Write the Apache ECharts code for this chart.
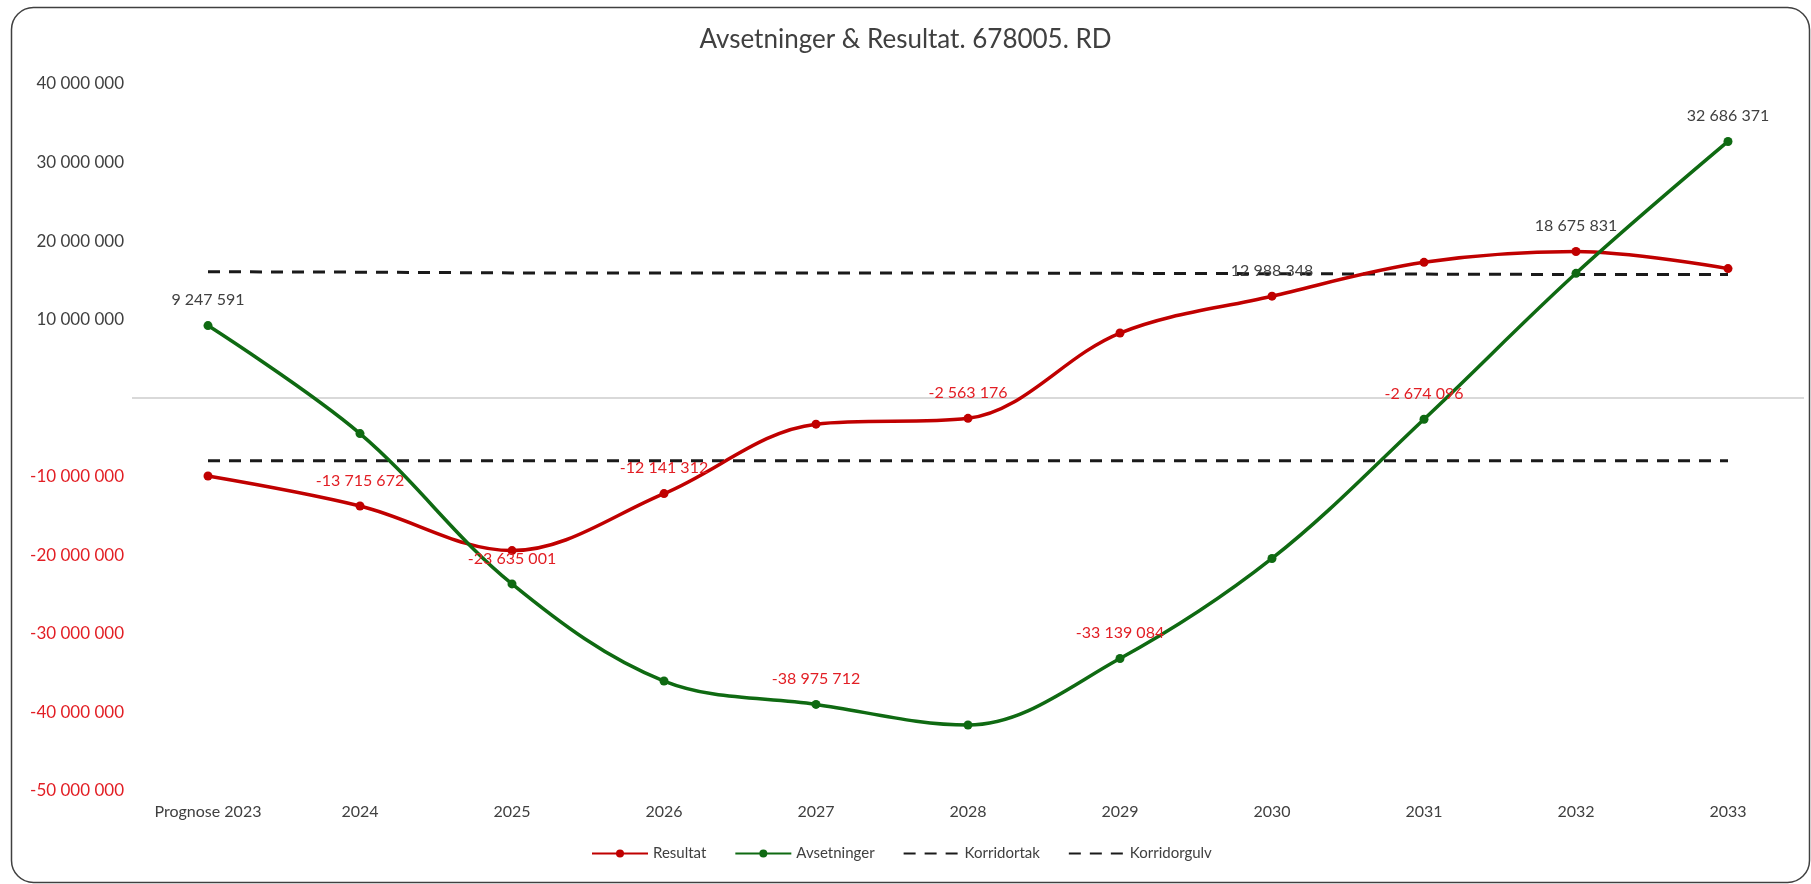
<!DOCTYPE html>
<html>
<head>
<meta charset="utf-8">
<script src="https://cdn.jsdelivr.net/npm/echarts@6/dist/echarts.min.js"></script>
<style>
  html, body { margin: 0; padding: 0; background: #ffffff; }
  #chart { width: 1811px; height: 884px; }
</style>
</head>
<body>
<div id="chart"></div>
<script>
const categories = ['Prognose 2023', '2024', '2025', '2026', '2027', '2028', '2029', '2030', '2031', '2032', '2033'];
const resultat = [-9900000, -13715672, -19400000, -12141312, -3300000, -2563176, 8300000, 12988348, 17300000, 18675831, 16500000];
const avsetninger = [9247591, -4500000, -23635001, -36000000, -38975712, -41600000, -33139084, -20400000, -2674096, 15900000, 32686371];
const korridortak = [16100000, 16050000, 15950000, 15950000, 15950000, 15950000, 15900000, 15850000, 15800000, 15750000, 15750000];
const korridorgulv = [-7950000, -7950000, -7950000, -7950000, -7950000, -7950000, -7950000, -7950000, -7950000, -7950000, -7950000];
const resultatLabelIdx = [1, 3, 5, 7, 9];
const avsetningerLabelIdx = [0, 2, 4, 6, 8, 10];
const yTicks = { min: -50000000, max: 40000000, interval: 10000000 };

const FONT = 'Lato, "Noto Sans", sans-serif';
const RED = '#c00000';
const GREEN = '#0f6a12';
const NEG_TXT = '#e21e24';
const POS_TXT = '#404040';

function fmt(v) {
  const s = Math.round(Math.abs(v)).toString().replace(/\B(?=(\d{3})+(?!\d))/g, ' ');
  return (v < 0 ? '-' : '') + s;
}

function buildData(values, labelIdx) {
  return values.map((v, i) => ({
    value: v,
    label: {
      show: labelIdx.indexOf(i) >= 0,
      position: 'top',
      distance: 13,
      formatter: fmt(v),
      color: v < 0 ? NEG_TXT : POS_TXT,
      fontSize: 16,
      fontFamily: FONT
    }
  }));
}

const chart = echarts.init(document.getElementById('chart'));
chart.setOption({
  backgroundColor: '#ffffff',
  animation: false,
  graphic: [{
    type: 'rect',
    left: 9, top: 5,
    shape: { width: 1798, height: 875, r: 22 },
    style: { fill: 'none', stroke: '#404040', lineWidth: 1.5 },
    silent: true, z: -10
  }],
  title: {
    text: 'Avsetninger & Resultat. 678005. RD',
    left: 'center',
    top: 22,
    textStyle: { fontFamily: FONT, fontSize: 26, fontWeight: 'normal', color: '#404040' }
  },
  legend: {
    bottom: 18,
    left: 586,
    itemWidth: 56,
    itemHeight: 10,
    itemGap: 28,
    textStyle: { fontFamily: FONT, fontSize: 15, color: '#404040' },
    data: [
      { name: 'Resultat' },
      { name: 'Avsetninger' },
      { name: 'Korridortak', itemStyle: { opacity: 0 } },
      { name: 'Korridorgulv', itemStyle: { opacity: 0 } }
    ]
  },
  grid: { left: 132, right: 7, top: 84, bottom: 93, containLabel: false },
  xAxis: {
    type: 'category',
    data: categories,
    boundaryGap: true,
    axisLine: { show: false, onZero: false },
    axisTick: { show: false },
    axisLabel: { margin: 13, fontFamily: FONT, fontSize: 16, color: '#404040' },
    splitLine: { show: false }
  },
  yAxis: {
    type: 'value',
    min: yTicks.min,
    max: yTicks.max,
    interval: yTicks.interval,
    axisLine: { show: false },
    axisTick: { show: false },
    splitLine: { show: false },
    axisLabel: {
      margin: 8,
      fontFamily: FONT,
      fontSize: 17,
      formatter: v => (v === 0 ? '' : fmt(v)),
      color: v => (Number(v) < 0 ? NEG_TXT : POS_TXT)
    }
  },
  series: [
    {
      name: 'Resultat',
      type: 'line',
      smooth: 0.35,
      symbol: 'circle',
      symbolSize: 9,
      z: 4,
      itemStyle: { color: RED },
      lineStyle: { color: RED, width: 3.5 },
      data: buildData(resultat, resultatLabelIdx),
      markLine: {
        silent: true,
        symbol: 'none',
        label: { show: false },
        lineStyle: { color: '#d9d9d9', type: 'solid', width: 2 },
        data: [{ yAxis: 0 }],
        z: 1
      }
    },
    {
      name: 'Avsetninger',
      type: 'line',
      smooth: 0.35,
      symbol: 'circle',
      symbolSize: 9,
      z: 5,
      itemStyle: { color: GREEN },
      lineStyle: { color: GREEN, width: 3.5 },
      data: buildData(avsetninger, avsetningerLabelIdx)
    },
    {
      name: 'Korridortak',
      type: 'line',
      symbol: 'none',
      z: 3,
      itemStyle: { color: '#1a1a1a' },
      lineStyle: { color: '#1a1a1a', width: 3, type: [12, 9] },
      data: korridortak
    },
    {
      name: 'Korridorgulv',
      type: 'line',
      symbol: 'none',
      z: 3,
      itemStyle: { color: '#1a1a1a' },
      lineStyle: { color: '#1a1a1a', width: 3, type: [12, 9] },
      data: korridorgulv
    }
  ]
});
</script>
</body>
</html>
